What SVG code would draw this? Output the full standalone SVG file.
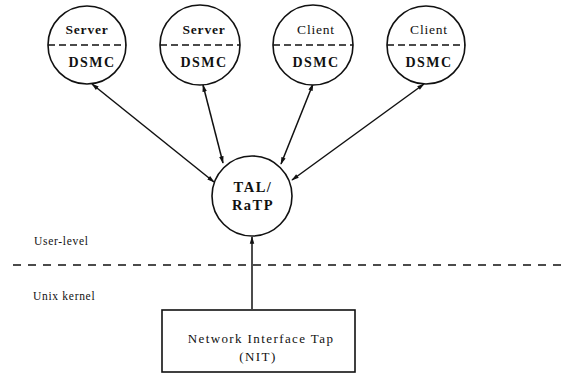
<svg xmlns="http://www.w3.org/2000/svg" width="562" height="375" viewBox="0 0 562 375">
  <style>
    .bg { fill: #ffffff; }
    .node { fill: #ffffff; stroke: #111111; stroke-width: 1.6; }
    .split { stroke: #111111; stroke-width: 1.7; stroke-dasharray: 7 4; fill: none; }
    .layer { stroke: #111111; stroke-width: 1.6; stroke-dasharray: 8 7; fill: none; }
    .link { stroke: #111111; stroke-width: 1.5; fill: none; marker-start: url(#head); marker-end: url(#head); }
    .lbl { font-family: "Liberation Serif", "Times New Roman", serif; fill: #111111; text-anchor: middle; }
    .role { font-size: 13.5px; letter-spacing: 0.8px; }
    .bold { font-weight: bold; }
    .dsmc { font-size: 14px; letter-spacing: 1.4px; }
    .big { font-size: 14.5px; font-weight: bold; letter-spacing: 1.5px; }
    .side { font-family: "Liberation Serif", "Times New Roman", serif; fill: #111111; font-size: 11.5px; letter-spacing: 0.7px; }
    .box { font-size: 13px; letter-spacing: 1.4px; }
  </style>
  <defs>
    <marker id="head" viewBox="0 0 10 8" refX="9" refY="4" markerWidth="8" markerHeight="6" markerUnits="userSpaceOnUse" orient="auto-start-reverse">
      <path d="M0,1 L10,4 L0,7 z" fill="#111111"/>
    </marker>
  </defs>
  <rect class="bg" x="0" y="0" width="562" height="375"/>

  <!-- user-level / kernel boundary -->
  <line class="layer" x1="13" y1="265" x2="562" y2="265"/>
  <text class="side" x="34" y="245">User-level</text>
  <text class="side" x="33" y="300">Unix kernel</text>

  <!-- connectors -->
  <g id="connectors">
    <line class="link" x1="92" y1="84" x2="214" y2="182"/>
    <line class="link" x1="203" y1="85" x2="223" y2="163"/>
    <line class="link" x1="313" y1="84" x2="281" y2="164"/>
    <line class="link" x1="424" y1="84" x2="292" y2="180"/>
    <line class="link" x1="252" y1="309" x2="252" y2="237" style="marker-start:none"/>
  </g>

  <g id="server1">
    <circle class="node" cx="87" cy="45" r="39"/>
    <line class="split" x1="48" y1="45" x2="126" y2="45"/>
    <text class="lbl role bold" x="87" y="34">Server</text>
    <text class="lbl dsmc bold" x="92" y="67">DSMC</text>
  </g>
  <g id="server2">
    <circle class="node" cx="200" cy="45" r="40"/>
    <line class="split" x1="160" y1="45" x2="240" y2="45"/>
    <text class="lbl role bold" x="204" y="34">Server</text>
    <text class="lbl dsmc bold" x="204" y="67">DSMC</text>
  </g>
  <g id="client1">
    <circle class="node" cx="313" cy="45" r="40"/>
    <line class="split" x1="273" y1="45" x2="353" y2="45"/>
    <text class="lbl role" x="316" y="34">Client</text>
    <text class="lbl dsmc bold" x="316" y="67">DSMC</text>
  </g>
  <g id="client2">
    <circle class="node" cx="426" cy="45" r="39"/>
    <line class="split" x1="387" y1="45" x2="465" y2="45"/>
    <text class="lbl role" x="429" y="34">Client</text>
    <text class="lbl dsmc bold" x="429" y="67">DSMC</text>
  </g>

  <g id="tal">
    <circle class="node" cx="252" cy="196" r="40"/>
    <text class="lbl big" x="253" y="192">TAL/</text>
    <text class="lbl big" x="253" y="210">RaTP</text>
  </g>

  <g id="nit">
    <rect class="node" x="162" y="310" width="193" height="62"/>
    <text class="lbl box" x="261" y="343">Network Interface Tap</text>
    <text class="lbl box" x="258" y="361">(NIT)</text>
  </g>
</svg>
